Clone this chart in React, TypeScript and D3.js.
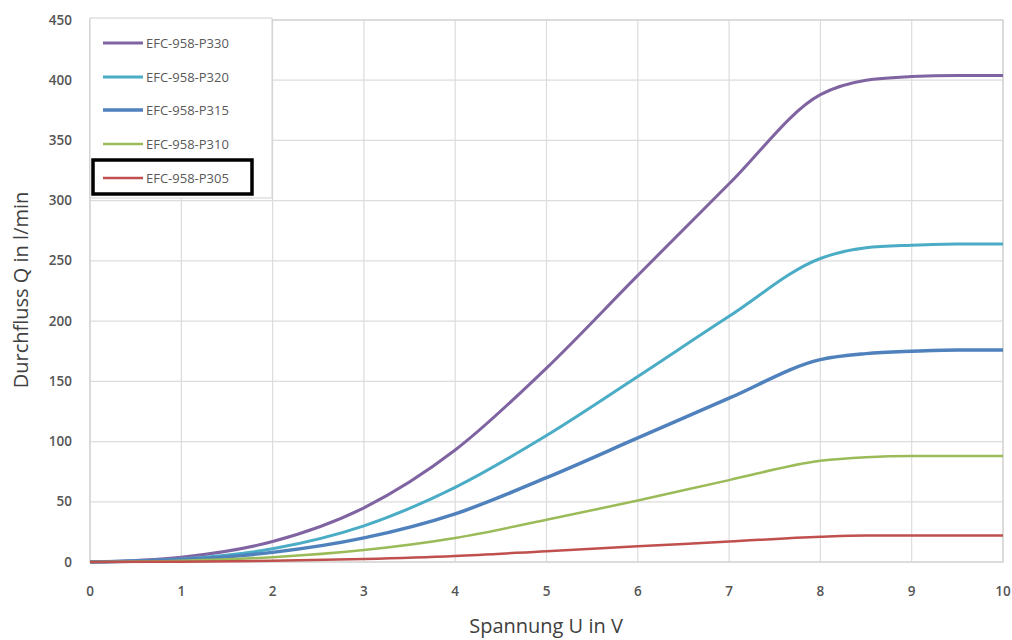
import React, { useEffect, useRef } from 'react'
import * as d3 from 'd3'

// Spannung U in V
const voltage = [0, 1, 2, 3, 4, 5, 6, 7, 8, 8.5, 9, 9.5, 10]

// Durchfluss Q in l/min per valve type
const p330 = [0, 4, 17, 45, 93, 161, 238, 314, 388, 400, 403, 404, 404]
const p320 = [0, 2.5, 11, 30, 62, 105, 154, 204, 252, 261, 263, 264, 264]
const p315 = [0, 2, 8, 20, 40, 70, 103, 136, 168, 173, 175, 176, 176]
const p310 = [0, 1, 4, 10, 20, 35, 51, 68, 84, 87, 88, 88, 88]
const p305 = [0, 0.3, 1, 2.5, 5, 9, 13, 17, 21, 22, 22, 22, 22]

const seriesNames = ['EFC-958-P330', 'EFC-958-P320', 'EFC-958-P315', 'EFC-958-P310', 'EFC-958-P305']
const seriesValues = [p330, p320, p315, p310, p305]
const seriesColors = ['#8064a2', '#4bacc6', '#4f81bd', '#9bbb59', '#c0504d']
const seriesWidths = [3, 3, 3.5, 2.5, 2.5]

const xTicks = [0, 1, 2, 3, 4, 5, 6, 7, 8, 9, 10]
const yTicks = [0, 50, 100, 150, 200, 250, 300, 350, 400, 450]

export default function App() {
  const svgRef = useRef(null)
  const width = 1012
  const height = 640
  const margin = { top: 20, right: 9, bottom: 78, left: 90 }

  useEffect(() => {
    const svg = d3.select(svgRef.current)
    svg.selectAll('*').remove()

    const x = d3.scaleLinear().domain([0, 10]).range([margin.left, width - margin.right])
    const y = d3.scaleLinear().domain([0, 450]).range([height - margin.bottom, margin.top])

    svg.append('rect').attr('width', width).attr('height', height).attr('fill', '#fff')

    // grid
    svg.append('g')
      .selectAll('line')
      .data(xTicks)
      .enter()
      .append('line')
      .attr('x1', d => x(d)).attr('x2', d => x(d))
      .attr('y1', y(0)).attr('y2', y(450))
      .attr('stroke', '#dcdcdc').attr('stroke-width', 1.2)

    svg.append('g')
      .selectAll('line')
      .data(yTicks)
      .enter()
      .append('line')
      .attr('x1', x(0)).attr('x2', x(10))
      .attr('y1', d => y(d)).attr('y2', d => y(d))
      .attr('stroke', '#dcdcdc').attr('stroke-width', 1.2)

    svg.append('rect')
      .attr('x', x(0)).attr('y', y(450))
      .attr('width', x(10) - x(0)).attr('height', y(0) - y(450))
      .attr('fill', 'none').attr('stroke', '#d0d0d0').attr('stroke-width', 1.2)

    // tick labels
    const tickFont = "'Open Sans', sans-serif"
    svg.append('g')
      .selectAll('text')
      .data(xTicks)
      .enter()
      .append('text')
      .attr('x', d => x(d)).attr('y', 596)
      .attr('text-anchor', 'middle')
      .attr('font-family', tickFont).attr('font-size', 13.5).attr('font-weight', 600)
      .attr('fill', '#555')
      .text(d => d)

    svg.append('g')
      .selectAll('text')
      .data(yTicks)
      .enter()
      .append('text')
      .attr('x', 72).attr('y', d => y(d) + 4.5)
      .attr('text-anchor', 'end')
      .attr('font-family', tickFont).attr('font-size', 13.5).attr('font-weight', 600)
      .attr('fill', '#555')
      .text(d => d)

    // lines
    const line = d3.line()
      .x((d, i) => x(voltage[i]))
      .y(d => y(d))
      .curve(d3.curveMonotoneX)

    seriesValues.forEach((vals, i) => {
      svg.append('path')
        .attr('d', line(vals))
        .attr('fill', 'none')
        .attr('stroke', seriesColors[i])
        .attr('stroke-width', seriesWidths[i])
        .attr('stroke-linejoin', 'round')
    })

    // legend
    const lg = svg.append('g')
    lg.append('rect')
      .attr('x', 90).attr('y', 18).attr('width', 182).attr('height', 180)
      .attr('fill', '#fff').attr('stroke', '#d0d0d0')
    const rowY = [43, 77, 110, 144, 178]
    seriesNames.forEach((name, i) => {
      lg.append('line')
        .attr('x1', 103).attr('x2', 143)
        .attr('y1', rowY[i]).attr('y2', rowY[i])
        .attr('stroke', seriesColors[i])
        .attr('stroke-width', seriesWidths[i])
      lg.append('text')
        .attr('x', 146).attr('y', rowY[i] + 4.5)
        .attr('font-family', tickFont).attr('font-size', 13)
        .attr('fill', '#595959')
        .text(name)
    })
    lg.append('rect')
      .attr('x', 93).attr('y', 160).attr('width', 159).attr('height', 34)
      .attr('fill', 'none').attr('stroke', '#000').attr('stroke-width', 3.5)

    // axis titles
    svg.append('text')
      .attr('x', 546).attr('y', 633)
      .attr('text-anchor', 'middle')
      .attr('font-family', tickFont).attr('font-size', 20)
      .attr('fill', '#404040')
      .text('Spannung U in V')

    svg.append('text')
      .attr('transform', 'translate(28,290) rotate(-90)')
      .attr('text-anchor', 'middle')
      .attr('font-family', tickFont).attr('font-size', 20)
      .attr('fill', '#404040')
      .text('Durchfluss Q in l/min')
  }, [])

  return (
    <svg ref={svgRef} width={width} height={height}
      style={{ position: 'absolute', left: 0, top: 0, display: 'block' }} />
  )
}
